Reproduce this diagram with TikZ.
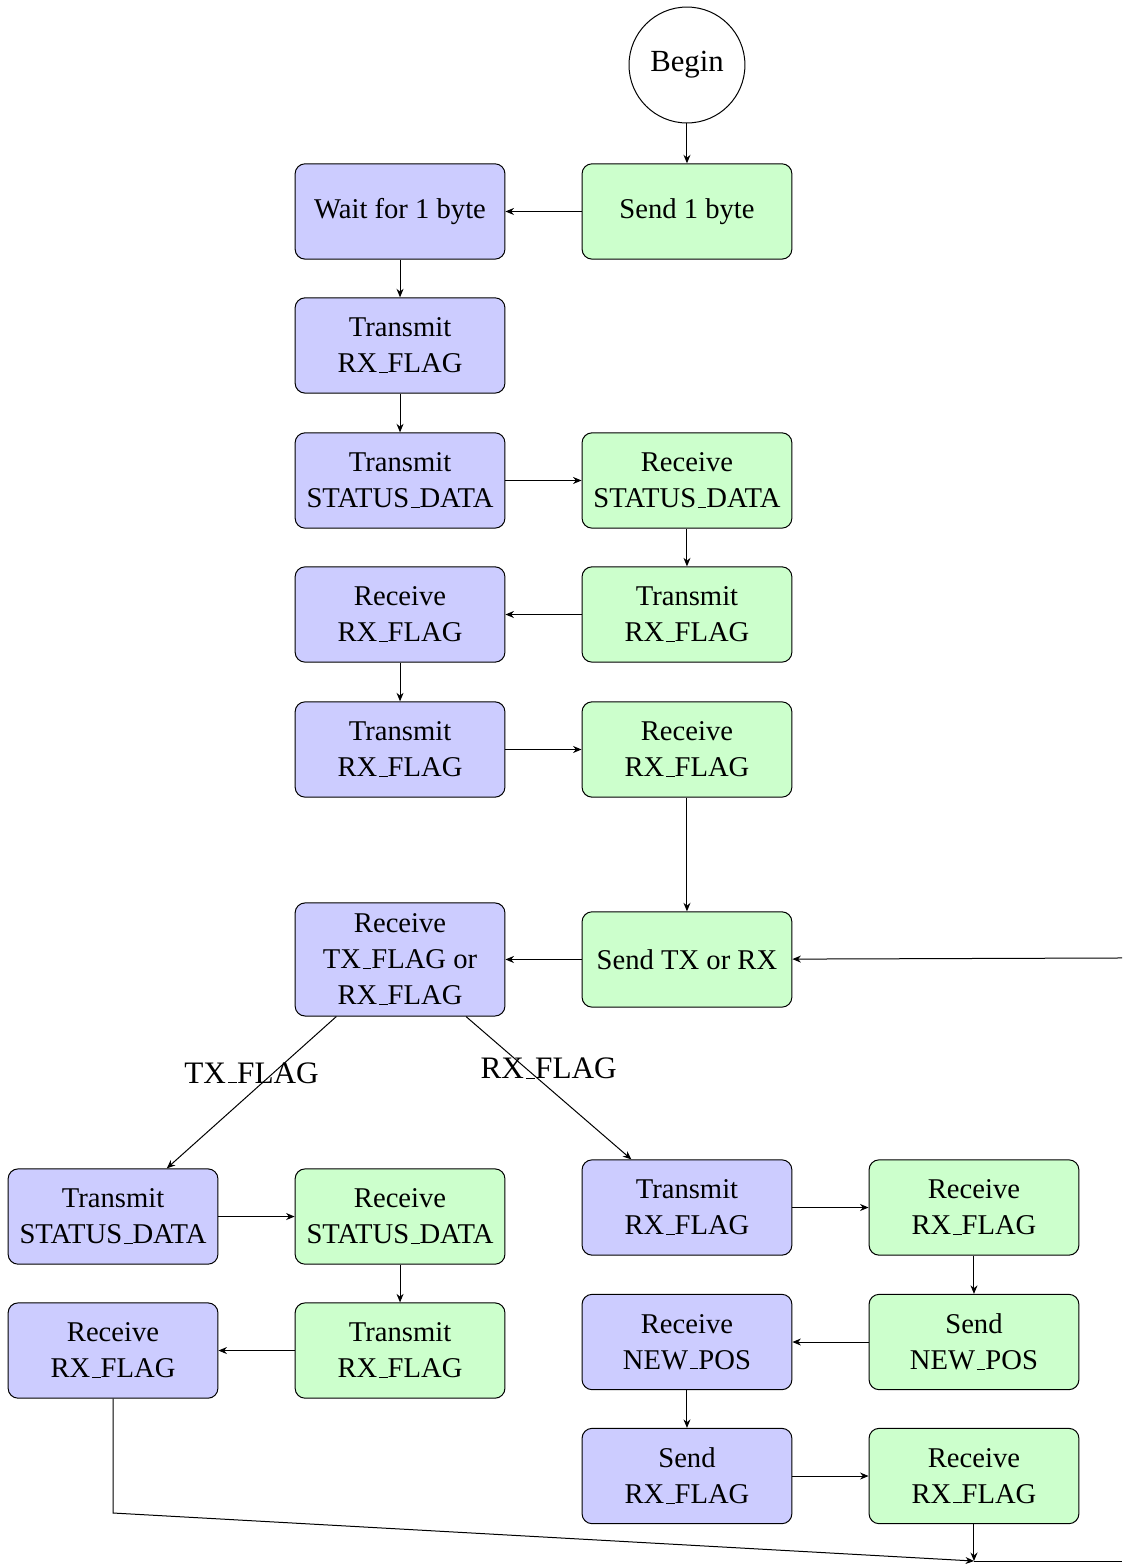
\documentclass[tikz,border=0pt]{standalone}
\usepackage{fontspec}
\setmainfont{Liberation Serif}
\usetikzlibrary{positioning, arrows.meta}
\definecolor{HostBlue}{HTML}{CCCCFF}
\definecolor{DevGreen}{HTML}{CCFFCC}
\newcommand{\usc}{\kern.06em\vbox{\hrule width .3em}}

\begin{document}
\begin{tikzpicture}[font=\fontsize{11.45}{14.4}\selectfont, >={Stealth[length=3.4pt, width=2.8pt]},
    host/.style={draw, fill=HostBlue, rounded corners, align=center, minimum width=2.95cm, minimum height=1.34cm},
    dev/.style={draw, fill=DevGreen, rounded corners, align=center, minimum width=2.95cm, minimum height=1.34cm},
    flaglabel/.style={font=\fontsize{12.5}{15}\selectfont, above}]
    \useasboundingbox (0,0) rectangle (15.774,-21.988);

    \node[draw, circle, minimum size=1.63cm, font=\fontsize{12.3}{14.8}\selectfont] (begin) at (9.658,-0.914) {Begin};
    \node[dev] (send) at (9.658,-2.973) {Send 1 byte};
    \node[host] (wait) at (5.624,-2.973) {Wait for 1 byte};
    \node[host] (txflagA) at (5.624,-4.857) {Transmit\\RX\usc FLAG};
    \node[host] (txstatA) at (5.624,-6.755) {Transmit\\STATUS\usc DATA};
    \node[dev] (rxstatA) at (9.658,-6.755) {Receive\\STATUS\usc DATA};
    \node[dev] (txflagB) at (9.658,-8.639) {Transmit\\RX\usc FLAG};
    \node[host] (rxflagA) at (5.624,-8.639) {Receive\\RX\usc FLAG};
    \node[host] (txflagC) at (5.624,-10.537) {Transmit\\RX\usc FLAG};
    \node[dev] (rxflagB) at (9.658,-10.537) {Receive\\RX\usc FLAG};
    \node[dev] (sendmode) at (9.658,-13.489) {Send TX or RX};
    \node[host, minimum height=1.59cm] (rxmode) at (5.624,-13.489) {Receive\\TX\usc FLAG or\\RX\usc FLAG};

    % TX branch
    \node[host] (txstatB) at (1.589,-17.103) {Transmit\\STATUS\usc DATA};
    \node[dev] (rxstatB) at (5.624,-17.103) {Receive\\STATUS\usc DATA};
    \node[dev] (txflagD) at (5.624,-18.987) {Transmit\\RX\usc FLAG};
    \node[host] (rxflagC) at (1.589,-18.987) {Receive\\RX\usc FLAG};

    % RX branch
    \node[host] (txflagE) at (9.658,-16.976) {Transmit\\RX\usc FLAG};
    \node[dev] (rxflagD) at (13.693,-16.976) {Receive\\RX\usc FLAG};
    \node[dev] (sendpos) at (13.693,-18.867) {Send\\NEW\usc POS};
    \node[host] (rxpos) at (9.658,-18.867) {Receive\\NEW\usc POS};
    \node[host] (sendflag) at (9.658,-20.751) {Send\\RX\usc FLAG};
    \node[dev] (rxflagE) at (13.693,-20.751) {Receive\\RX\usc FLAG};

    \coordinate (bend) at (1.589,-21.271);
    \coordinate (merge) at (13.693,-21.946);
    \coordinate (edgeB) at (15.774,-21.946);
    \coordinate (edgeT) at (15.774,-13.468);

    \draw[->] (begin) -- (send);
    \draw[->] (send) -- (wait);
    \draw[->] (wait) -- (txflagA);
    \draw[->] (txflagA) -- (txstatA);
    \draw[->] (txstatA) -- (rxstatA);
    \draw[->] (rxstatA) -- (txflagB);
    \draw[->] (txflagB) -- (rxflagA);
    \draw[->] (rxflagA) -- (txflagC);
    \draw[->] (txflagC) -- (rxflagB);
    \draw[->] (rxflagB) -- (sendmode);
    \draw[->] (sendmode) -- (rxmode);
    \draw[->] (edgeT) -- (sendmode);

    \draw[->] (rxmode) -- node[flaglabel] {TX\usc FLAG} (txstatB);
    \draw[->] (rxmode) -- node[flaglabel] {RX\usc FLAG} (txflagE);

    \draw[->] (txstatB) -- (rxstatB);
    \draw[->] (rxstatB) -- (txflagD);
    \draw[->] (txflagD) -- (rxflagC);
    \draw[->] (rxflagC) -- (bend) -- (merge);

    \draw[->] (txflagE) -- (rxflagD);
    \draw[->] (rxflagD) -- (sendpos);
    \draw[->] (sendpos) -- (rxpos);
    \draw[->] (rxpos) -- (sendflag);
    \draw[->] (sendflag) -- (rxflagE);
    \draw[->] (rxflagE) -- (merge);
    \draw (merge) -- (edgeB);
\end{tikzpicture}
\end{document}
